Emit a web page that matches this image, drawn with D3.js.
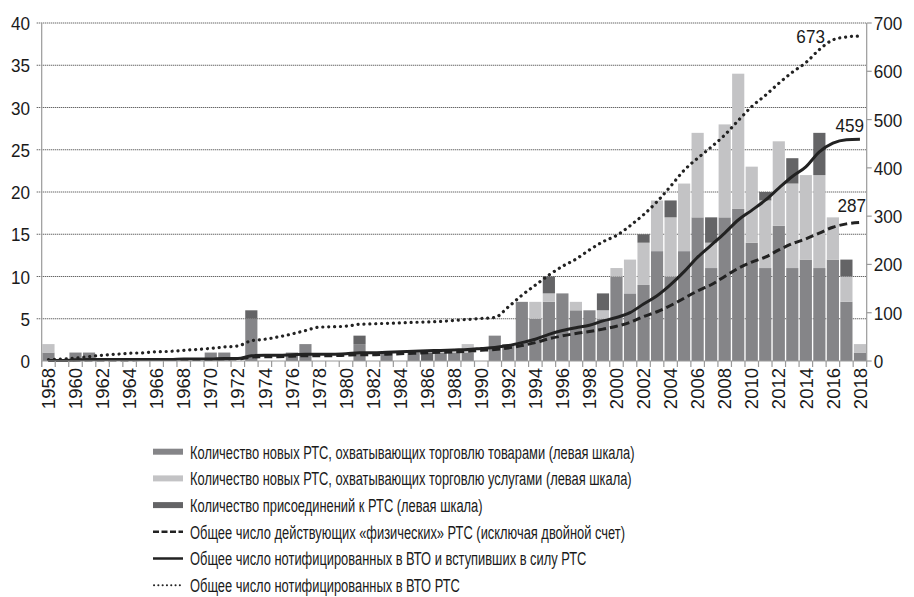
<!DOCTYPE html>
<html lang="ru">
<head>
<meta charset="UTF-8">
<title>РТС</title>
<script src="https://d3js.org/d3.v7.min.js"></script>
<style>
  body { margin: 0; background: #fff; }
  svg text { font-family: "Liberation Sans", Arial, sans-serif; fill: #1a1a1a; }
</style>
</head>
<body>
<svg width="914" height="597"></svg>
<script>
// years 1958..2018
const years = d3.range(1958, 2019)

// bars (left scale)
const goods = [1,0,1,1,0,0,0,0,0,0, 0,0,1,1,0,5,0,0,1,2, 0,0,0,2,0,1,0,1,0,1, 1,1,0,3,2,7,5,7,8,6, 6,5,10,8,9,13,10,13,17,11, 17,18,14,11,16,11,12,11,12,7, 1]
const services = [1,0,0,0,0,0,0,0,0,0, 0,0,0,0,0,0,0,0,0,0, 0,0,0,0,0,0,0,0,0,0, 0,1,0,0,0,0,2,1,0,1, 0,1,1,4,5,6,7,8,10,3, 11,16,9,8,10,10,10,11,5,3, 1]
const accessions = [0,0,0,0,0,0,0,0,0,0, 0,0,0,0,0,1,0,0,0,0, 0,0,0,1,0,0,0,0,1,0, 0,0,0,0,0,0,0,2,0,0, 0,2,0,0,1,0,2,0,0,3, 0,0,0,1,0,3,0,5,0,2, 0]

// lines (right scale)
const physical = [1,1,2,2,2,2,2,3,3,3, 3,3,3,4,4,8,9,9,10,11, 11,11,12,13,13,14,15,16,17,18, 19,20,22,24,27,32,38,46,52,57, 61,66,72,80,92,102,115,130,145,158, 175,192,205,215,230,243,253,265,277,284, 287]
const inForce = [1,1,2,3,3,3,3,3,3,3, 4,4,4,5,5,11,12,12,13,14, 14,14,15,17,17,18,19,20,21,22, 23,24,26,28,32,38,45,55,63,69, 74,83,90,100,118,135,158,185,215,240, 265,292,312,333,358,382,402,433,451,458, 459]
const notified = [3,4,6,9,12,14,16,17,19,20, 22,24,26,29,31,42,45,50,56,63, 70,71,72,76,77,78,79,80,81,82, 84,86,88,90,112,136,157,178,196,211, 230,247,260,280,303,330,362,395,420,443, 468,498,527,550,575,598,618,645,665,671, 673]

const leftTicks = [0,5,10,15,20,25,30,35,40]
const rightTicks = [0,100,200,300,400,500,600,700]

const legendItems = [
  {type: 'bar', color: '#858588', label: 'Количество новых РТС, охватывающих торговлю товарами (левая шкала)'},
  {type: 'bar', color: '#c3c3c5', label: 'Количество новых РТС, охватывающих торговлю услугами (левая шкала)'},
  {type: 'bar', color: '#646466', label: 'Количество присоединений к РТС (левая шкала)'},
  {type: 'dash', label: 'Общее число действующих «физических» РТС (исключая двойной счет)'},
  {type: 'solid', label: 'Общее число нотифицированных в ВТО и вступивших в силу РТС'},
  {type: 'dot', label: 'Общее число нотифицированных в ВТО РТС'}
]

const svg = d3.select('svg')
const plotLeft = 41.7, plotRight = 866.7, plotTop = 23, plotBottom = 361
const numSize = '19px'
const numSqueeze = 0.9

let x = d3.scaleBand().domain(years).range([plotLeft, plotRight]).paddingInner(0.1).paddingOuter(0.05)
let yL = d3.scaleLinear().domain([0, 40]).range([plotBottom, plotTop])
let yR = d3.scaleLinear().domain([0, 700]).range([plotBottom, plotTop])
let step = x.step()

// gridlines
svg.append('g')
    .selectAll('line')
    .data(leftTicks.filter(d => d > 0))
    .enter()
    .append('line')
    .attr('x1', plotLeft - 5).attr('x2', plotRight)
    .attr('y1', d => yL(d)).attr('y2', d => yL(d))
    .attr('stroke', '#555')
    .attr('stroke-width', 1)
    .attr('stroke-dasharray', '1.2 0.8')

// stacked bars
const table = years.map((yr, i) => ({year: yr, goods: goods[i], services: services[i], accessions: accessions[i]}))
const stack = d3.stack().keys(['goods', 'services', 'accessions'])(table)
const barColor = {goods: '#858588', services: '#c3c3c5', accessions: '#646466'}

svg.append('g')
    .selectAll('g')
    .data(stack)
    .enter()
    .append('g')
    .attr('fill', d => barColor[d.key])
    .selectAll('rect')
    .data(d => d.filter(s => s[1] > s[0]))
    .enter()
    .append('rect')
    .attr('x', d => x(d.data.year))
    .attr('width', x.bandwidth())
    .attr('y', d => yL(d[1]))
    .attr('height', d => yL(d[0]) - yL(d[1]))

// lines
const cx = yr => x(yr) + x.bandwidth() / 2
const lineGen = vals => d3.line()
    .x((d, i) => cx(years[i]))
    .y(d => yR(d))
    .curve(d3.curveMonotoneX)(vals)

svg.append('path').attr('d', lineGen(notified))
    .attr('fill', 'none').attr('stroke', '#222').attr('stroke-width', 3.2)
    .attr('stroke-linecap', 'round').attr('stroke-dasharray', '0.1 5.8')
svg.append('path').attr('d', lineGen(physical))
    .attr('fill', 'none').attr('stroke', '#222').attr('stroke-width', 3)
    .attr('stroke-dasharray', '8 4')
svg.append('path').attr('d', lineGen(inForce))
    .attr('fill', 'none').attr('stroke', '#222').attr('stroke-width', 3)

// small helper: number text squeezed horizontally
function numText(g, tx, ty, anchor, txt) {
    return g.append('text')
        .attr('transform', `translate(${tx},${ty}) scale(${numSqueeze},1)`)
        .attr('text-anchor', anchor)
        .style('font-size', numSize)
        .text(txt)
}

// end labels
const n = years.length - 1
numText(svg, cx(2016) - 8, yR(notified[n]) + 7, 'end', notified[n])
numText(svg, cx(2018) + 4, yR(inForce[n]) - 7, 'end', inForce[n])
numText(svg, cx(2018) + 6, yR(physical[n]) - 10, 'end', physical[n])

// axes
const axisColor = '#9a9a9a'
svg.append('line').attr('x1', plotLeft).attr('x2', plotLeft).attr('y1', plotTop).attr('y2', plotBottom + 6)
    .attr('stroke', axisColor).attr('stroke-width', 1.2)
svg.append('line').attr('x1', plotRight).attr('x2', plotRight).attr('y1', plotTop).attr('y2', plotBottom + 6)
    .attr('stroke', axisColor).attr('stroke-width', 1.2)
svg.append('line').attr('x1', plotLeft).attr('x2', plotRight).attr('y1', plotBottom).attr('y2', plotBottom)
    .attr('stroke', axisColor).attr('stroke-width', 1.2)

// year boundary ticks
svg.append('g')
    .selectAll('line')
    .data(years)
    .enter()
    .append('line')
    .attr('x1', d => x(d) - step * x.paddingInner() / 2)
    .attr('x2', d => x(d) - step * x.paddingInner() / 2)
    .attr('y1', plotBottom).attr('y2', plotBottom + 6)
    .attr('stroke', axisColor).attr('stroke-width', 1.2)

// right ticks
svg.append('g')
    .selectAll('line')
    .data(rightTicks)
    .enter()
    .append('line')
    .attr('x1', plotRight).attr('x2', plotRight + 5)
    .attr('y1', d => yR(d)).attr('y2', d => yR(d))
    .attr('stroke', axisColor).attr('stroke-width', 1.2)

// left labels
let leftG = svg.append('g')
leftTicks.forEach(d => numText(leftG, 30, yL(d) + 7, 'end', d))

// right labels
let rightG = svg.append('g')
rightTicks.forEach(d => numText(rightG, plotRight + 7, yR(d) + 7, 'start', d))

// year labels
svg.append('g')
    .selectAll('text')
    .data(years.filter(d => d % 2 === 0))
    .enter()
    .append('text')
    .attr('transform', d => `translate(${cx(d)},${plotBottom + 7}) rotate(-90)`)
    .attr('dy', '0.36em')
    .attr('text-anchor', 'end')
    .style('font-size', '18.5px')
    .text(d => d)

// legend
let legend = svg.append('g')
    .selectAll('g')
    .data(legendItems)
    .enter()
    .append('g')
    .attr('transform', (d, i) => `translate(153,${451.7 + i * 26.7})`)

legend.filter(d => d.type === 'bar')
    .append('rect')
    .attr('x', 0).attr('y', -3).attr('width', 30).attr('height', 6)
    .attr('fill', d => d.color)
legend.filter(d => d.type !== 'bar')
    .append('line')
    .attr('x1', d => d.type === 'dot' ? 1 : 0).attr('x2', 30)
    .attr('stroke', '#222')
    .attr('stroke-width', d => d.type === 'dot' ? 2 : 2.5)
    .attr('stroke-linecap', d => d.type === 'dot' ? 'round' : 'butt')
    .attr('stroke-dasharray', d => d.type === 'dash' ? '6 2.5' : d.type === 'dot' ? '0.1 4.2' : null)

let legendText = legend.append('text')
    .attr('dy', '0.36em')
    .style('font-size', '19px')
    .text(d => d.label)

// condensed look: squeeze text so the first label spans ~445px like the source
let squeeze = 445 / legendText.node().getComputedTextLength()
legendText.attr('transform', `translate(37,0) scale(${squeeze},1)`)
</script>
</body>
</html>
